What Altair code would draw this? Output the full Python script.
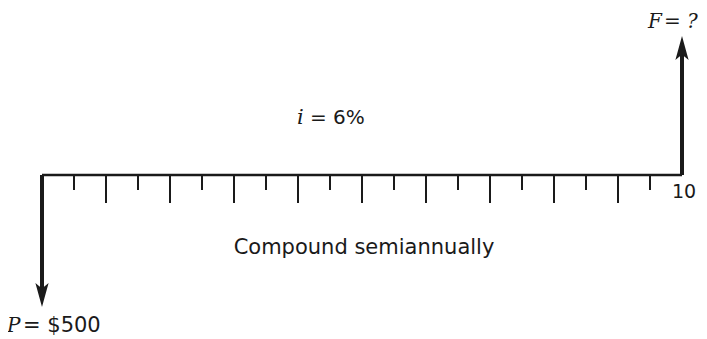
import altair as alt
import pandas as pd

# ---- data -------------------------------------------------------------
periods = list(range(0, 21))            # semiannual compounding periods (10 years)
year_label_period = [20]
year_label_text = ["10"]
flow_periods = [0, 20]
flow_symbols = ["P", "F"]
flow_values = ["$500", "?"]
flow_arrow = [-132, 139]                # arrow length in diagram units (down = payment)
rate_text = ["i", "= 6%"]
note_text = ["Compound semiannually"]

# ---- layout -----------------------------------------------------------
W, H = 691, 331
UNIT = 32.0
X0 = -34 / UNIT
X1 = (W - 34) / UNIT
VMAX = 167
VMIN = VMAX - H

xs = alt.Scale(domain=[X0, X1], nice=False, zero=False)
ys = alt.Scale(domain=[VMIN, VMAX], nice=False, zero=False)
SANS = "DejaVu Sans"
SERIF = "DejaVu Serif"


def X(f="x"):
    return alt.X(f"{f}:Q", scale=xs, axis=None)


def Y(f="y"):
    return alt.Y(f"{f}:Q", scale=ys, axis=None)


# time line
line_df = pd.DataFrame({"x": [periods[0]], "x2": [periods[-1]], "y": [0]})
line = alt.Chart(line_df).mark_rule(color="#1a1a1a", strokeWidth=2.5).encode(
    x=X(), x2="x2:Q", y=Y()
)

# tick marks: long at whole years, short at half years
tick_df = pd.DataFrame({"x": periods[1:-1]})
tick_df["y"] = 0
tick_df["kind"] = ["year" if p % 2 == 0 else "half" for p in tick_df["x"]]
short_ticks = alt.Chart(tick_df[tick_df.kind == "half"]).mark_rule(
    color="#1a1a1a", strokeWidth=2
).encode(x=X(), y=Y(), y2=alt.Y2Datum(-15))
long_ticks = alt.Chart(tick_df[tick_df.kind == "year"]).mark_rule(
    color="#1a1a1a", strokeWidth=2
).encode(x=X(), y=Y(), y2=alt.Y2Datum(-28))

flow_df = pd.DataFrame(
    {"x": flow_periods, "y": [0, 0], "tip": flow_arrow,
     "sym": flow_symbols, "val": flow_values}
)
down_df = flow_df[flow_df.tip < 0]
up_df = flow_df[flow_df.tip > 0]

down_shaft = alt.Chart(down_df).mark_rule(
    color="#1a1a1a", strokeWidth=4, y2Offset=-10
).encode(x=X(), y=Y(), y2="tip:Q")
up_shaft = alt.Chart(up_df).mark_rule(
    color="#1a1a1a", strokeWidth=4, y2Offset=10
).encode(x=X(), y=Y(), y2="tip:Q")

down_head = alt.Chart(down_df).mark_point(
    shape="M0,0L-1.1,-4L0,-3.1L1.1,-4Z", size=144, filled=True,
    color="#1a1a1a", opacity=1, strokeWidth=0
).encode(x=X(), y=Y("tip"))
up_head = alt.Chart(up_df).mark_point(
    shape="M0,0L-1.1,4L0,3.1L1.1,4Z", size=144, filled=True,
    color="#1a1a1a", opacity=1, strokeWidth=0
).encode(x=X(), y=Y("tip"))

# labels at arrow tips
p_sym = alt.Chart(down_df).mark_text(
    font=SERIF, fontStyle="italic", fontSize=20, align="left",
    baseline="alphabetic", dx=-35, dy=25, color="#1a1a1a"
).encode(x=X(), y=Y("tip"), text="sym:N")
p_val = alt.Chart(down_df.assign(val="= " + down_df.val)).mark_text(
    font=SANS, fontSize=21, align="left", baseline="alphabetic",
    dx=-19, dy=25, color="#1a1a1a"
).encode(x=X(), y=Y("tip"), text="val:N")

f_sym = alt.Chart(up_df).mark_text(
    font=SERIF, fontStyle="italic", fontSize=20, align="left",
    baseline="alphabetic", dx=-34, dy=-8, color="#1a1a1a"
).encode(x=X(), y=Y("tip"), text="sym:N")
f_val = alt.Chart(up_df.assign(val="= " + up_df.val)).mark_text(
    font=SERIF, fontStyle="italic", fontSize=20, align="left",
    baseline="alphabetic", dx=-18, dy=-8, color="#1a1a1a"
).encode(x=X(), y=Y("tip"), text="val:N")

# year label
yr_df = pd.DataFrame({"x": year_label_period, "y": [0], "t": year_label_text})
yr = alt.Chart(yr_df).mark_text(
    font=SANS, fontSize=19, align="left", baseline="alphabetic",
    dx=-10, dy=23, color="#1a1a1a"
).encode(x=X(), y=Y(), text="t:N")

# interest rate
rate_df = pd.DataFrame({"x": [9], "y": [51]})
rate_i = alt.Chart(rate_df.assign(t=rate_text[0])).mark_text(
    font=SERIF, fontStyle="italic", fontSize=21, align="left",
    baseline="alphabetic", dx=-33, color="#1a1a1a"
).encode(x=X(), y=Y(), text="t:N")
rate_v = alt.Chart(rate_df.assign(t=rate_text[1])).mark_text(
    font=SANS, fontSize=20, align="left", baseline="alphabetic",
    dx=-20, color="#1a1a1a"
).encode(x=X(), y=Y(), text="t:N")

note_df = pd.DataFrame({"x": [10], "y": [-79], "t": note_text})
note = alt.Chart(note_df).mark_text(
    font=SANS, fontSize=21, align="center", baseline="alphabetic",
    dx=2, color="#1a1a1a"
).encode(x=X(), y=Y(), text="t:N")

chart = alt.layer(
    line, short_ticks, long_ticks, down_shaft, up_shaft, down_head, up_head,
    p_sym, p_val, f_sym, f_val, yr, rate_i, rate_v, note
).properties(
    width=W, height=H, padding=0,
    autosize=alt.AutoSizeParams(type="none"),
).configure_view(stroke=None)

chart.save("out.html", embed_options={"renderer": "svg", "actions": False})
